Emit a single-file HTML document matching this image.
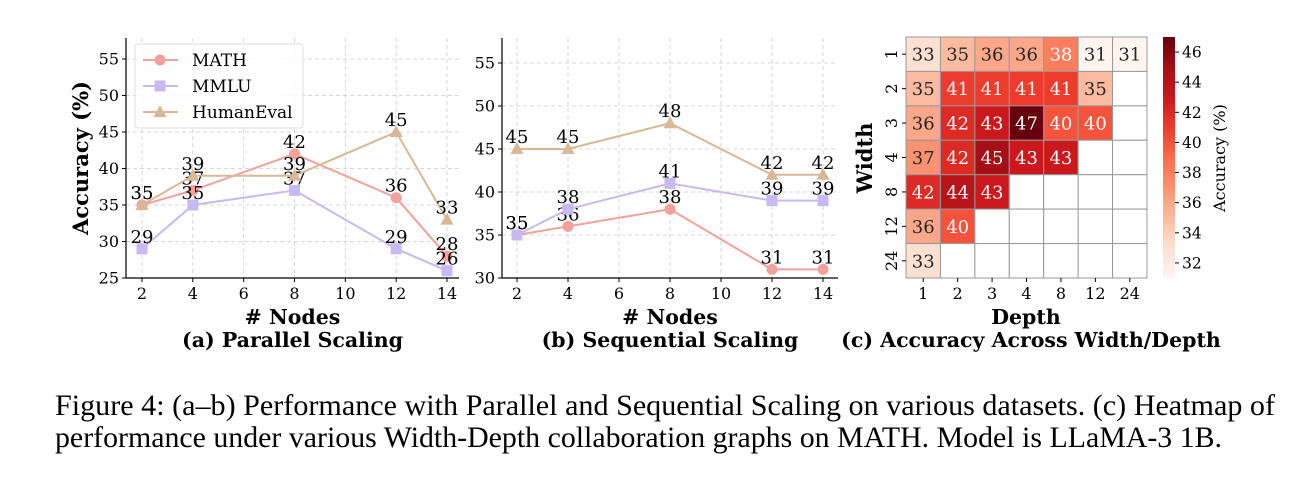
<!DOCTYPE html>
<html><head><meta charset="utf-8">
<style>
body{margin:0;background:#fff;}
svg{display:block;font-family:"DejaVu Serif",serif;}
.cap{font-family:"Liberation Serif",serif;font-size:29.5px;fill:#000;}
</style></head>
<body>
<svg id="fig" width="1305" height="486" viewBox="0 0 1305 486" xmlns="http://www.w3.org/2000/svg">
<text class="cap" x="55" y="415" textLength="1220" lengthAdjust="spacingAndGlyphs">Figure 4: (a–b) Performance with Parallel and Sequential Scaling on various datasets. (c) Heatmap of</text>
<text class="cap" x="55" y="447" textLength="1167" lengthAdjust="spacingAndGlyphs">performance under various Width-Depth collaboration graphs on MATH. Model is LLaMA-3 1B.</text>
</svg>
<script>
const xNodes=[2,4,8,12,14];
const aMath=[35,37,42,36,28];
const aMmlu=[29,35,37,29,26];
const aHuman=[35,39,39,45,33];
const bMath=[35,36,38,31,31];
const bMmlu=[35,38,41,39,39];
const bHuman=[45,45,48,42,42];
const xTicks=[2,4,6,8,10,12,14];
const aYTicks=[25,30,35,40,45,50,55];
const bYTicks=[30,35,40,45,50,55];
const hmRows=["1","2","3","4","8","12","24"];
const hmCols=["1","2","3","4","8","12","24"];
const hmVals=[
[33,35,36,36,38,31,31],
[35,41,41,41,41,35,null],
[36,42,43,47,40,40,null],
[37,42,45,43,43,null,null],
[42,44,43,null,null,null,null],
[36,40,null,null,null,null,null],
[33,null,null,null,null,null,null]];
const cbTicks=[32,34,36,38,40,42,44,46];

const NS="http://www.w3.org/2000/svg";
const svg=document.getElementById('fig');
function el(tag,attrs,parent,text){const e=document.createElementNS(NS,tag);for(const k in attrs)e.setAttribute(k,attrs[k]);if(text!==undefined)e.textContent=text;(parent||svg).appendChild(e);return e;}

const colors={MATH:"#f4a19b",MMLU:"#c9b9f2",HumanEval:"#d8b896"};

function linePanel(cfg){
  const g=el('g',{});
  
  
  const X=v=>cfg.x0+(v-2)*(cfg.x1-cfg.x0)/12;
  const Y=v=>cfg.yb-(v-cfg.ymin)*(cfg.yb-cfg.y55)/(55-cfg.ymin);
  xTicks.forEach(t=>{const l=el('line',{x1:X(t),x2:X(t),y1:cfg.top,y2:cfg.yb,stroke:"#ccc","stroke-width":0.8,"stroke-dasharray":"4,3"},g);
    });
  cfg.yTicks.forEach(t=>{if(t===cfg.ymin)return;const l=el('line',{x1:cfg.left,x2:cfg.right,y1:Y(t),y2:Y(t),stroke:"#ccc","stroke-width":0.8,"stroke-dasharray":"4,3"},g);
    });
  const ax=el('path',{d:`M${cfg.left},${cfg.top} V${cfg.yb} H${cfg.right}`,fill:"none",stroke:"#000","stroke-width":1.2},g);
  
  xTicks.forEach(t=>{el('line',{x1:X(t),x2:X(t),y1:cfg.yb,y2:cfg.yb+4,stroke:"#000"},g);
    const tx=el('text',{x:X(t),y:cfg.yb+21,"font-size":16,"text-anchor":"middle"},g,String(t));
    });
  cfg.yTicks.forEach(t=>{el('line',{x1:cfg.left-4,x2:cfg.left,y1:Y(t),y2:Y(t),stroke:"#000"},g);
    if(cfg.showYLabels){const tx=el('text',{x:cfg.left-7,y:Y(t)+5.5,"font-size":16,"text-anchor":"end"},g,String(t));
    }});
  const series=[["MATH",cfg.math],["MMLU",cfg.mmlu],["HumanEval",cfg.human]];
  series.forEach(([nm,vals])=>{
    const c=colors[nm];
    const pl=el('polyline',{points:vals.map((v,i)=>X(xNodes[i])+","+Y(v)).join(" "),fill:"none",stroke:c,"stroke-width":2},g);
    
    vals.forEach((v,i)=>{const cx=X(xNodes[i]),cy=Y(v);let m;
      if(nm==="MATH")m=el('circle',{cx,cy,r:5.5,fill:c},g);
      else if(nm==="MMLU")m=el('rect',{x:cx-5.5,y:cy-5.5,width:11,height:11,fill:c},g);
      else m=el('polygon',{points:`${cx},${cy-7} ${cx-6.5},${cy+5} ${cx+6.5},${cy+5}`,fill:c},g);
      
      const t=el('text',{x:cx,y:cy-6,"font-size":18,"text-anchor":"middle"},g,String(v));
      });
  });
  const xl=el('text',{x:(cfg.left+cfg.right)/2,y:324,"font-size":20.5,"font-weight":"bold","text-anchor":"middle"},g,"# Nodes");
  
  const st=el('text',{x:(cfg.left+cfg.right)/2,y:347,"font-size":20.5,"font-weight":"bold","text-anchor":"middle"},g,cfg.title);
  
  return {g,X,Y};
}

const pa=linePanel({name:'panel-parallel-scaling',x0:142,x1:447,left:126,right:459,top:38,yb:278,y55:59,ymin:25,yTicks:aYTicks,showYLabels:true,math:aMath,mmlu:aMmlu,human:aHuman,title:"(a) Parallel Scaling"});
const yl=el('text',{x:0,y:0,"font-size":21,"font-weight":"bold","text-anchor":"middle",transform:"translate(88,158) rotate(-90)"},pa.g,"Accuracy (%)");

const lg=el('g',{},pa.g);

el('rect',{x:135,y:44,width:168,height:84,rx:3,fill:"#fff","fill-opacity":0.85,stroke:"#ddd"},lg);
[["MATH",60],["MMLU",86],["HumanEval",112]].forEach(([nm,y])=>{
  const e=el('g',{},lg);
  
  const c=colors[nm];
  el('line',{x1:143,x2:178,y1:y,y2:y,stroke:c,"stroke-width":2},e);
  if(nm==="MATH")el('circle',{cx:160,cy:y,r:5.5,fill:c},e);
  else if(nm==="MMLU")el('rect',{x:154.5,y:y-5.5,width:11,height:11,fill:c},e);
  else el('polygon',{points:`160,${y-7} 153.5,${y+5} 166.5,${y+5}`,fill:c},e);
  el('text',{x:192,y:y+6,"font-size":17},e,nm);
});

linePanel({name:'panel-sequential-scaling',x0:517,x1:823,left:502,right:838,top:38,yb:278,y55:63,ymin:30,yTicks:bYTicks,showYLabels:true,math:bMath,mmlu:bMmlu,human:bHuman,title:"(b) Sequential Scaling"});

const stops=[[0,"#fff5f0"],[.125,"#fee0d2"],[.25,"#fcbba1"],[.375,"#fc9272"],[.5,"#fb6a4a"],[.625,"#ef3b2c"],[.75,"#cb181d"],[.875,"#a50f15"],[1,"#67000d"]];
const vmin=31,vmax=47;
function hex(h){return [1,3,5].map(i=>parseInt(h.substr(i,2),16));}
function cmap(v){let t=Math.max(0,Math.min(1,(v-vmin)/(vmax-vmin)));
  for(let i=1;i<stops.length;i++){if(t<=stops[i][0]){const a=hex(stops[i-1][1]),b=hex(stops[i][1]);const f=(t-stops[i-1][0])/(stops[i][0]-stops[i-1][0]);
    return "rgb("+a.map((x,j)=>Math.round(x+(b[j]-x)*f)).join(",")+")";}}return stops[8][1];}
const hg=el('g',{});

const hx0=906,hy0=37,cw=(1147-906)/7,ch=(278-37)/7;
hmVals.forEach((row,r)=>row.forEach((v,c)=>{
  const rc=el('rect',{x:hx0+c*cw,y:hy0+r*ch,width:cw,height:ch,fill:v===null?"#fff":cmap(v),stroke:"#999","stroke-width":1},hg);
  
  if(v!==null){const t=el('text',{x:hx0+c*cw+cw/2,y:hy0+r*ch+ch/2+6.5,"font-size":18,"text-anchor":"middle",fill:v>=38?"#fff":"#262626"},hg,String(v));
    }
}));
hmCols.forEach((lab,c)=>{const x=hx0+c*cw+cw/2;el('line',{x1:x,x2:x,y1:278,y2:282,stroke:"#000"},hg);
  const t=el('text',{x,y:299,"font-size":16,"text-anchor":"middle"},hg,lab);});
hmRows.forEach((lab,r)=>{const y=hy0+r*ch+ch/2;el('line',{x1:902,x2:906,y1:y,y2:y,stroke:"#000"},hg);
  const t=el('text',{x:0,y:0,"font-size":16,"text-anchor":"middle",transform:`translate(897,${y}) rotate(-90)`},hg,lab);});
const wl=el('text',{x:0,y:0,"font-size":21,"font-weight":"bold","text-anchor":"middle",transform:"translate(872,158) rotate(-90)"},hg,"Width");

const dl=el('text',{x:1026,y:324,"font-size":20.5,"font-weight":"bold","text-anchor":"middle"},hg,"Depth");

const ht=el('text',{x:1031,y:347,"font-size":20.5,"font-weight":"bold","text-anchor":"middle"},hg,"(c) Accuracy Across Width/Depth");

const cb=el('g',{});

const defs=el('defs',{},cb);const gr=el('linearGradient',{id:"cbg",x1:0,y1:1,x2:0,y2:0},defs);
stops.forEach(s=>el('stop',{offset:s[0],"stop-color":s[1]},gr));
el('rect',{x:1163,y:37,width:12,height:241,fill:"url(#cbg)"},cb);
const CY=v=>278-(v-vmin)*241/(vmax-vmin);
cbTicks.forEach(t=>{el('line',{x1:1175,x2:1179,y1:CY(t),y2:CY(t),stroke:"#000"},cb);
  const tx=el('text',{x:1182,y:CY(t)+5.5,"font-size":15.5},cb,String(t));});
const cl=el('text',{x:0,y:0,"font-size":16,"text-anchor":"middle",transform:"translate(1225,158) rotate(-90)"},cb,"Accuracy (%)");

</script>
</body></html>
